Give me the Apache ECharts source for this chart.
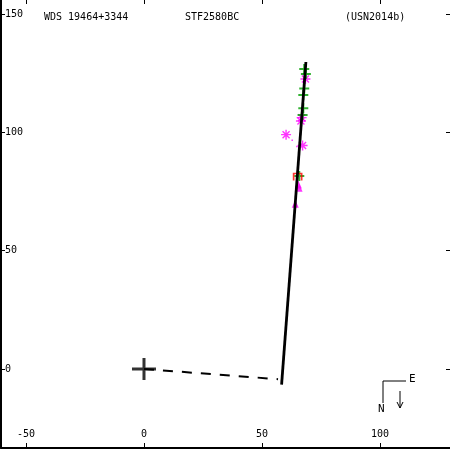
<!DOCTYPE html>
<html><head><meta charset="utf-8">
<script src="https://cdn.jsdelivr.net/npm/echarts@6/dist/echarts.min.js"></script>
<style>html,body{margin:0;padding:0;background:#fff}#c{width:450px;height:450px}</style>
</head><body><div id="c"></div>
<script>
const xTicks = [-50, 0, 50, 100];
const yTicks = [0, 50, 100, 150];
const orbit = [[58.3, -6.6], [68.6, 129.7]];
const nodeLine = [[0, 0], [56.8, -4.3]];
const primary = [[0, 0]];
const greenPlus = [[67.9, 126.7], [68.6, 124.6], [67.9, 118.5], [67.5, 115.8], [67.5, 110.2], [67.2, 107.3], [65.8, 81.5]];
const magentaStar = [[68.4, 122.5], [66.8, 106.2], [66.5, 104.8], [60.2, 99.0], [67.2, 94.4]];
const magentaDot = [[62.8, 96.6], [64.8, 94.0]];
const redMark = [[65.1, 81.1]];
const magentaTri = [[65.4, 78.0], [65.7, 76.6], [64.1, 69.8]];
const titleLeft = 'WDS 19464+3344';
const titleMid = 'STF2580BC';
const titleRight = '(USN2014b)';

const FONT = 'DejaVu Sans Mono';
const chart = echarts.init(document.getElementById('c'), null, {renderer: 'canvas'});
const xMin = -60.59, xMax = 129.66, yMin = -33.38, yMax = 155.9;
const tickStyle = {color: '#000', width: 1};
const plusPath = 'path://M0,-5 L0,5 M-5,0 L5,0';
const starPath = 'path://M0,-5 L0,5 M-5,0 L5,0 M-3.5,-3.5 L3.5,3.5 M-3.5,3.5 L3.5,-3.5';
const bigPlus = 'path://M-1.5,-11 L1.5,-11 L1.5,-1.5 L12,-1.5 L12,1.5 L1.5,1.5 L1.5,11 L-1.5,11 L-1.5,1.5 L-12,1.5 L-12,-1.5 L-1.5,-1.5 Z';
const redPath = 'path://M-4,4 L-4,-3 L4,-3 L4,4';

chart.setOption({
  animation: false,
  backgroundColor: '#fff',
  grid: {left: 1, right: 0, top: 0, bottom: 2, containLabel: false},
  xAxis: [{
    type: 'value', min: xMin, max: xMax, position: 'bottom',
    axisLine: {show: true, onZero: false, lineStyle: {color: '#000', width: 2}},
    axisTick: {show: true, inside: true, length: 5, customValues: xTicks, lineStyle: tickStyle},
    axisLabel: {show: true, inside: true, margin: 9, customValues: xTicks, color: '#000', fontFamily: FONT, fontSize: 10},
    splitLine: {show: false}
  }, {
    type: 'value', min: xMin, max: xMax, position: 'top',
    axisLine: {show: false, onZero: false},
    axisTick: {show: true, inside: true, length: 4, customValues: xTicks, lineStyle: tickStyle},
    axisLabel: {show: false},
    splitLine: {show: false}
  }],
  yAxis: [{
    type: 'value', min: yMin, max: yMax, position: 'left',
    axisLine: {show: true, onZero: false, lineStyle: {color: '#000', width: 2}},
    axisTick: {show: true, inside: true, length: 4, customValues: yTicks, lineStyle: tickStyle},
    axisLabel: {show: true, inside: true, margin: 4, customValues: yTicks, color: '#000', fontFamily: FONT, fontSize: 10},
    splitLine: {show: false}
  }, {
    type: 'value', min: yMin, max: yMax, position: 'right',
    axisLine: {show: false, onZero: false},
    axisTick: {show: true, inside: true, length: 4, customValues: yTicks, lineStyle: tickStyle},
    axisLabel: {show: false},
    splitLine: {show: false}
  }],
  series: [
    {type: 'scatter', data: magentaTri, symbol: 'triangle', symbolSize: [7, 8], itemStyle: {color: '#ff00ff'}, z: 2},
    {type: 'scatter', data: magentaDot, symbol: 'rect', symbolSize: 1.5, itemStyle: {color: '#ff00ff'}, z: 2},
    {type: 'scatter', data: magentaStar, symbol: starPath, symbolSize: 10, itemStyle: {color: '#ff00ff', borderColor: '#ff00ff', borderWidth: 1.4}, z: 2},
    {type: 'scatter', data: greenPlus, symbol: plusPath, symbolSize: 10, itemStyle: {color: '#00a000', borderColor: '#00a000', borderWidth: 2}, z: 2},
    {type: 'scatter', data: redMark, symbol: redPath, symbolSize: [8, 7], itemStyle: {color: 'rgba(0,0,0,0)', borderColor: '#ff0000', borderWidth: 1.6}, z: 2},
    {type: 'line', data: nodeLine, showSymbol: false, symbol: 'none', lineStyle: {color: '#000', width: 2, type: [10, 9]}, z: 3},
    {type: 'line', data: orbit, showSymbol: false, symbol: 'none', lineStyle: {color: '#000', width: 2.8}, z: 4},
    {type: 'scatter', data: primary, symbol: bigPlus, symbolSize: [24, 22], itemStyle: {color: '#000'}, z: 5}
  ],
  graphic: [
    {type: 'text', left: 44, top: 12, style: {text: titleLeft, font: '10px ' + FONT, fill: '#000'}},
    {type: 'text', left: 185, top: 12, style: {text: titleMid, font: '10px ' + FONT, fill: '#000'}},
    {type: 'text', left: 345, top: 12, style: {text: titleRight, font: '10px ' + FONT, fill: '#000'}},
    {type: 'polyline', shape: {points: [[406, 381], [383, 381], [383, 403]]}, style: {stroke: '#000', lineWidth: 1, fill: null}},
    {type: 'text', left: 409, top: 374, style: {text: 'E', font: '11px ' + FONT, fill: '#000'}},
    {type: 'text', left: 378, top: 404, style: {text: 'N', font: '11px ' + FONT, fill: '#000'}},
    {type: 'line', shape: {x1: 400, y1: 391, x2: 400, y2: 408}, style: {stroke: '#000', lineWidth: 1}},
    {type: 'polyline', shape: {points: [[397, 402], [400, 408], [403, 402]]}, style: {stroke: '#000', lineWidth: 1, fill: null}}
  ]
});
</script>
</body></html>
